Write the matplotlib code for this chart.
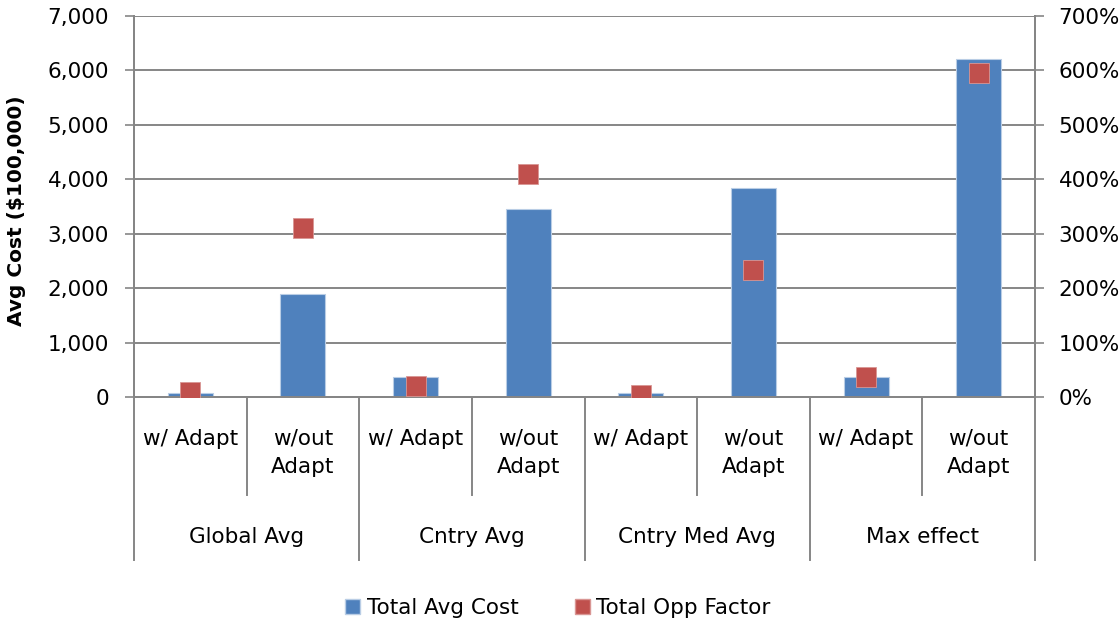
import numpy as np
import matplotlib
matplotlib.use('Agg')
from matplotlib import pyplot as plt
from matplotlib.patches import Patch
from matplotlib.ticker import FuncFormatter, MultipleLocator

# chart data
groups = ['Global Avg', 'Cntry Avg', 'Cntry Med Avg', 'Max effect']
subLabels = ['w/ Adapt', 'w/out\nAdapt']
avgCost = [70, 1900, 375, 3460, 70, 3835, 375, 6215]
oppFactor = [0.09, 3.11, 0.20, 4.10, 0.04, 2.33, 0.36, 5.96]

blue = '#4F81BD'
red = '#C0504D'
grey = '#868686'

plt.rcParams['font.family'] = ['DejaVu Sans']
plt.rcParams['font.size'] = 15.5

fig = plt.figure(figsize=(11.2, 6.25), dpi=100)
ax = fig.add_axes([134/1120, 228/625, 901/1120, 381/625])
ax2 = ax.twinx()

x = np.arange(len(avgCost))
ax.bar(x, avgCost, 0.4, color=blue, edgecolor='#B9CDE5', linewidth=0.8, zorder=3)
ax2.plot(x, oppFactor, linestyle='none', marker='s', markersize=14.5,
         color=red, markeredgecolor='#D99694', markeredgewidth=0.6, zorder=4)

ax.set_xlim(-0.5, len(avgCost) - 0.5)
ax.set_ylim(0, 7000)
ax2.set_ylim(0, 7)
ax.yaxis.set_major_locator(MultipleLocator(1000))
ax2.yaxis.set_major_locator(MultipleLocator(1))
ax.yaxis.set_major_formatter(FuncFormatter(lambda v, p: '{:,.0f}'.format(v)))
ax2.yaxis.set_major_formatter(FuncFormatter(lambda v, p: '{:.0f}%'.format(v * 100)))

ax.grid(axis='y', color=grey, linewidth=1.4, zorder=0)
ax.set_axisbelow(True)

for a in (ax, ax2):
    a.spines['top'].set_visible(False)
    for side in ['left', 'right', 'bottom']:
        a.spines[side].set_color(grey)
        a.spines[side].set_linewidth(1.4)
ax.tick_params(axis='y', length=6.5, width=1.2, color=grey, pad=11.5)
ax2.tick_params(axis='y', length=6.5, width=1.2, color=grey, pad=10.5)
ax.tick_params(axis='x', bottom=False, labelbottom=False)
ax2.tick_params(axis='x', bottom=False, labelbottom=False)

ax.set_ylabel('Avg Cost ($100,000)', fontweight='bold', fontsize=14.5)
ax.yaxis.set_label_coords(-0.12, 0.49)

# multi-level category axis
trans = ax.get_xaxis_transform()
for i in range(len(avgCost) + 1):
    pos = i - 0.5
    depth = -0.428 if i % 2 == 0 else -0.257
    ax.plot([pos, pos], [0, depth], color=grey, linewidth=1.4,
            transform=trans, clip_on=False)
for i in range(len(avgCost)):
    ax.text(i, -0.083, subLabels[i % 2], transform=trans, ha='center',
            va='top', linespacing=1.5)
for g, name in enumerate(groups):
    ax.text(2 * g + 0.5, -0.367, name, transform=trans, ha='center', va='center')

handles = [Patch(facecolor=blue, edgecolor='#B9CDE5'),
           Patch(facecolor=red, edgecolor='#D99694')]
fig.legend(handles, ['Total Avg Cost', 'Total Opp Factor'], loc='center',
           bbox_to_anchor=(558/1120, 17/625), ncol=2, frameon=False,
           handlelength=0.7, handleheight=0.7, handletextpad=0.3,
           columnspacing=2.6)

plt.savefig('out.png', dpi=100)
